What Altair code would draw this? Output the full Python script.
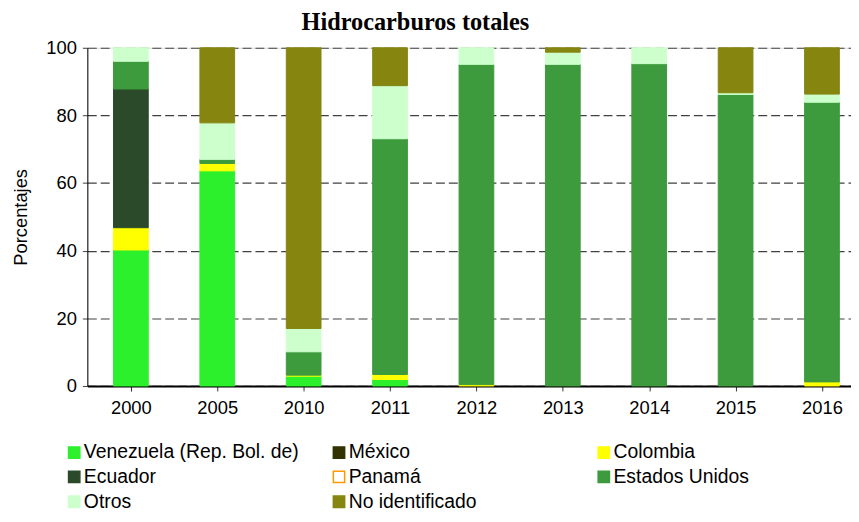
import altair as alt
import pandas as pd

years = ["2000", "2005", "2010", "2011", "2012", "2013", "2014", "2015", "2016"]
series = ["Venezuela (Rep. Bol. de)", "México", "Colombia", "Ecuador", "Panamá",
          "Estados Unidos", "Otros", "No identificado"]

venezuela = [40.2, 63.6, 2.9, 1.9, 0.0, 0.0, 0.0, 0.0, 0.0]
mexico = [0.0, 0.0, 0.0, 0.0, 0.0, 0.0, 0.0, 0.0, 0.0]
colombia = [6.6, 2.2, 0.3, 1.5, 0.4, 0.0, 0.0, 0.0, 1.2]
ecuador = [41.0, 0.0, 0.0, 0.0, 0.0, 0.0, 0.0, 0.0, 0.0]
panama = [0.0, 0.0, 0.0, 0.0, 0.0, 0.0, 0.0, 0.0, 0.0]
estados_unidos = [8.2, 1.2, 6.9, 69.7, 94.7, 95.1, 95.3, 86.2, 82.7]
otros = [4.0, 10.8, 6.9, 15.7, 4.9, 3.6, 4.7, 0.5, 2.4]
no_identificado = [0.0, 22.2, 83.0, 11.2, 0.0, 1.3, 0.0, 13.3, 13.7]

fill_colors = ["#2cf02c", "#333300", "#ffff00", "#2a4a2a", "#ffffff",
               "#3d9a3d", "#ccffcc", "#858510"]
stroke_colors = ["#2cf02c", "#333300", "#ffff00", "#2a4a2a", "#ff9900",
                 "#3d9a3d", "#ccffcc", "#858510"]

values = [venezuela, mexico, colombia, ecuador, panama, estados_unidos, otros, no_identificado]
rows = []
for si, (name, vals) in enumerate(zip(series, values)):
    for y, v in zip(years, vals):
        rows.append({"year": y, "serie": name, "value": v, "idx": si})
df = pd.DataFrame(rows)

base_font = "Liberation Sans"

chart = alt.Chart(df).transform_filter(
    "datum.value > 0"
).mark_bar(size=35, strokeWidth=1).encode(
    x=alt.X("year:N", sort=years, title=None,
            scale=alt.Scale(type="point", padding=0.42, align=0.6),
            axis=alt.Axis(labelAngle=0, tickBand="extent", domainColor="black",
                          domainWidth=2, tickColor="#333333", tickSize=5,
                          labelPadding=8, labelFontSize=18.5, labelFont=base_font,
                          labelColor="black", grid=False)),
    y=alt.Y("value:Q", stack="zero", title="Porcentajes",
            scale=alt.Scale(domain=[0, 100], nice=False),
            axis=alt.Axis(values=[0, 20, 40, 60, 80, 100], grid=True,
                          gridDash=[9, 4], gridColor="#404040", gridWidth=1.2,
                          domainColor="black", domainWidth=1,
                          tickColor="#404040", tickSize=5, tickDash=[9, 4],
                          labelFontSize=18.5, labelFont=base_font, labelColor="black",
                          labelPadding=6, titleFont=base_font, titleFontSize=18.5,
                          titleFontWeight="normal", titleColor="black", titlePadding=15)),
    color=alt.Color("serie:N", scale=alt.Scale(domain=series, range=fill_colors),
                    legend=alt.Legend(title=None, orient="none", legendX=-23, legendY=398,
                                      columns=3, direction="horizontal", gridAlign="all",
                                      columnPadding=30, rowPadding=4,
                                      symbolType="square", symbolSize=130,
                                      symbolStrokeWidth=1.5, labelFontSize=19.5,
                                      labelFont=base_font, labelColor="black",
                                      labelOffset=0, labelLimit=400)),
    stroke=alt.Stroke("serie:N", scale=alt.Scale(domain=series, range=stroke_colors),
                      legend=None),
    order=alt.Order("idx:Q", sort="ascending"),
).properties(
    width=770,
    height=341,
    title=alt.TitleParams("Hidrocarburos totales", font="Liberation Serif", fontSize=24.5,
                          fontWeight="bold", color="black", anchor="start", frame="group",
                          dx=216, offset=3),
    autosize=alt.AutoSizeParams(type="none"),
    padding={"left": 80, "top": 38, "right": 0, "bottom": 127},
).configure_view(stroke=None).configure(background="white")

chart.save("out.html", embed_options={"renderer": "svg", "actions": False})
